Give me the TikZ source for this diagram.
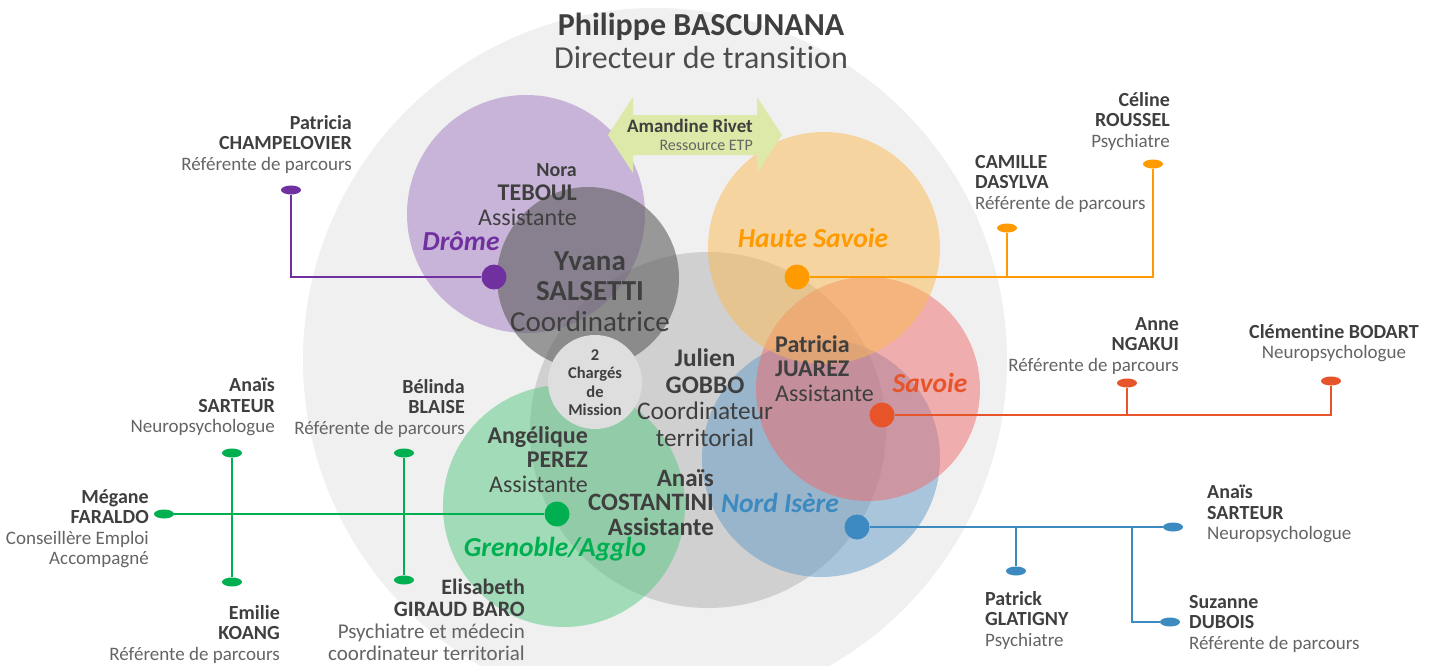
\documentclass[tikz,border=0pt]{standalone}
\usepackage{fontspec}
\setmainfont{Carlito}[Ligatures=NoCommon]
\usetikzlibrary{shapes.geometric}
\definecolor{inkD}{HTML}{3F3F3F}
\definecolor{inkM}{HTML}{4D4D4D}
\definecolor{inkL}{HTML}{646464}
\definecolor{paleG}{HTML}{F0F0F0}
\definecolor{purp}{HTML}{7030A0}
\definecolor{oran}{HTML}{FF9A00}
\definecolor{redd}{HTML}{E8542A}
\definecolor{blu}{HTML}{3C8AC0}
\definecolor{grn}{HTML}{00B050}
\definecolor{purpF}{HTML}{A27AC2}
\definecolor{oranF}{HTML}{FABA50}
\definecolor{reddF}{HTML}{F06B6B}
\definecolor{bluF}{HTML}{649CCA}
\definecolor{grnF}{HTML}{56C882}
\definecolor{etp}{HTML}{DDE9A8}
\newcommand{\whonm}[1]{{\fontsize{20}{20.5}\selectfont\bfseries\color{inkD}#1}}
\begin{document}
\begin{tikzpicture}[x=1pt,y=-1pt,
  zone/.style={fill=#1,fill opacity=0.5},
  hub/.style={shape=circle,fill=#1,minimum size=25pt,inner sep=0pt},
  stub/.style={shape=ellipse,fill=#1,minimum width=20pt,minimum height=9pt,inner sep=0pt},
  link/.style={draw=#1,line width=2pt},
  who/.style={inner sep=0pt,text=inkL,font=\fontsize{19}{20.5}\selectfont},
  whoR/.style={who,anchor=north east,align=right},
  whoL/.style={who,anchor=north west,align=left},
  staff/.style={inner sep=0pt,text=inkD,font=\fontsize{24}{24.5}\selectfont},
  areaname/.style={inner sep=0pt,text=#1,font=\fontsize{27.5}{27.5}\selectfont\bfseries\itshape}]

\useasboundingbox (0,0) rectangle (1443,665);

\fill[paleG] (655,360) circle (352);
\fill[black,fill opacity=0.13] (708,430) circle (178);
\fill[zone=purpF] (526,214) circle (119);
\fill[zone=bluF] (821,458) circle (119);
\fill[zone=reddF] (868,389) circle (112);
\fill[zone=oranF] (824,248) circle (116);
\fill[zone=grnF] (564,506) circle (121);
\fill[black!63,fill opacity=0.6] (588,278) circle (91);
\fill[black!13] (595,382) circle (47);

\fill[etp] (608,135) -- (633,97) -- (633,115) -- (757,115) -- (757,97) -- (782,135)
  -- (757,173) -- (757,155) -- (633,155) -- (633,173) -- cycle;

\node[hub=purp] (hubD) at (494,277) {};
\node[hub=oran] (hubHS) at (797,277) {};
\node[hub=redd] (hubS) at (882,415) {};
\node[hub=blu] (hubNI) at (857,527) {};
\node[hub=grn] (hubGA) at (557,514) {};

\node[stub=purp] (tChamp) at (291,190) {};
\node[stub=oran] (tCeline) at (1153,164) {};
\node[stub=oran] (tCamille) at (1007,228) {};
\node[stub=redd] (tNgakui) at (1127,383) {};
\node[stub=redd] (tBodart) at (1331,381) {};
\node[stub=blu] (tSarteurB) at (1173,527) {};
\node[stub=blu] (tGlatigny) at (1016,571) {};
\node[stub=blu] (tDubois) at (1170,622) {};
\node[stub=grn] (tFaraldo) at (164,514) {};
\node[stub=grn] (tSarteurG) at (232,453) {};
\node[stub=grn] (tKoang) at (232,582) {};
\node[stub=grn] (tBlaise) at (404,453) {};
\node[stub=grn] (tGiraud) at (404,580) {};
\coordinate (jDubois) at (1132,527);

\draw[link=purp] (hubD) -| (tChamp);
\draw[link=oran] (hubHS) -| (tCeline);
\draw[link=oran] (tCamille) -- (tCamille |- hubHS);
\draw[link=redd] (hubS) -| (tBodart);
\draw[link=redd] (tNgakui) -- (tNgakui |- hubS);
\draw[link=blu] (hubNI) -- (tSarteurB);
\draw[link=blu] (tGlatigny) -- (tGlatigny |- hubNI);
\draw[link=blu] (jDubois) |- (tDubois);
\draw[link=grn] (hubGA) -- (tFaraldo);
\draw[link=grn] (tSarteurG) -- (tKoang);
\draw[link=grn] (tBlaise) -- (tGiraud);

\node[anchor=north,align=center,inner sep=0pt,font=\fontsize{32}{33}\selectfont] (boss) at (701,13)
  {{\bfseries\color{inkD}Philippe BASCUNANA}\\{\color{inkM}Directeur de transition}};
\node[anchor=north east,align=right,inner sep=0pt,text=inkD,font=\fontsize{19}{18}\selectfont] (etpName) at (753,119)
  {\textbf{Amandine Rivet}\\{\fontsize{16}{18}\selectfont\color{inkL}Ressource ETP}};

\node[staff,anchor=north east,align=right] (nora) at (577,163) {{\fontsize{20}{24}\selectfont\bfseries Nora}\\\textbf{TEBOUL}\\Assistante};
\node[areaname=purp] (drome) at (461,241) {Drôme};
\node[anchor=north,align=center,inner sep=0pt,text=inkD,font=\fontsize{29}{30.5}\selectfont] (yvana) at (590,251)
  {\textbf{Yvana}\\\textbf{SALSETTI}\\Coordinatrice};
\node[areaname=oran] (hsav) at (813,238) {Haute Savoie};
\node[anchor=north,align=center,inner sep=0pt,text=inkD,font=\fontsize{16.5}{18.5}\selectfont\bfseries] (cdm) at (595,349)
  {2\\Chargés\\de\\Mission};
\node[staff,anchor=north,align=center,font=\fontsize{25.3}{26.5}\selectfont] (julien) at (705,349)
  {\textbf{Julien}\\\textbf{GOBBO}\\Coordinateur\\territorial};
\node[staff,anchor=north west,align=left] (juarez) at (775,335) {\textbf{Patricia}\\\textbf{JUAREZ}\\Assistante};
\node[areaname=redd] (sav) at (930,383) {Savoie};
\node[staff,anchor=north east,align=right] (perez) at (588,426) {\textbf{Angélique}\\\textbf{PEREZ}\\Assistante};
\node[staff,anchor=north east,align=right,font=\fontsize{25}{24.5}\selectfont\bfseries] (costa) at (714,469)
  {Anaïs\\COSTANTINI\\Assistante};
\node[areaname=blu] (nisere) at (780,503) {Nord Isère};
\node[areaname=grn] (greno) at (555,549) {Grenoble/Agglo};

\node[whoR] (champ) at (352,115) {\whonm{Patricia}\\\whonm{CHAMPELOVIER}\\Référente de parcours};
\node[whoR] (celine) at (1170,92) {\whonm{Céline}\\\whonm{ROUSSEL}\\Psychiatre};
\node[whoL] (camille) at (975,155) {\whonm{CAMILLE}\\\whonm{DASYLVA}\\Référente de parcours};
\node[whoR] (anne) at (1179,317) {\whonm{Anne}\\\whonm{NGAKUI}\\Référente de parcours};
\node[who,anchor=north,align=center] (bodart) at (1334,324) {\whonm{Clémentine BODART}\\Neuropsychologue};
\node[whoL] (sarteurB) at (1207,485) {\whonm{Anaïs}\\\whonm{SARTEUR}\\Neuropsychologue};
\node[whoL] (glatigny) at (985,591) {\whonm{Patrick}\\\whonm{GLATIGNY}\\Psychiatre};
\node[whoL] (dubois) at (1189,595) {\whonm{Suzanne}\\\whonm{DUBOIS}\\Référente de parcours};
\node[whoR] (sarteurG) at (275,378) {\whonm{Anaïs}\\\whonm{SARTEUR}\\Neuropsychologue};
\node[whoR] (blaise) at (465,379) {\whonm{Bélinda}\\\whonm{BLAISE}\\Référente de parcours};
\node[whoR] (faraldo) at (149,489) {\whonm{Mégane}\\\whonm{FARALDO}\\Conseillère Emploi\\Accompagné};
\node[whoR] (koang) at (280,605) {\whonm{Emilie}\\\whonm{KOANG}\\Référente de parcours};
\node[whoR,font=\fontsize{21}{22}\selectfont] (giraud) at (525,579)
  {{\fontsize{22}{22}\selectfont\bfseries\color{inkD}Elisabeth}\\{\fontsize{22}{22}\selectfont\bfseries\color{inkD}GIRAUD BARO}\\Psychiatre et médecin\\coordinateur territorial};
\end{tikzpicture}
\end{document}
